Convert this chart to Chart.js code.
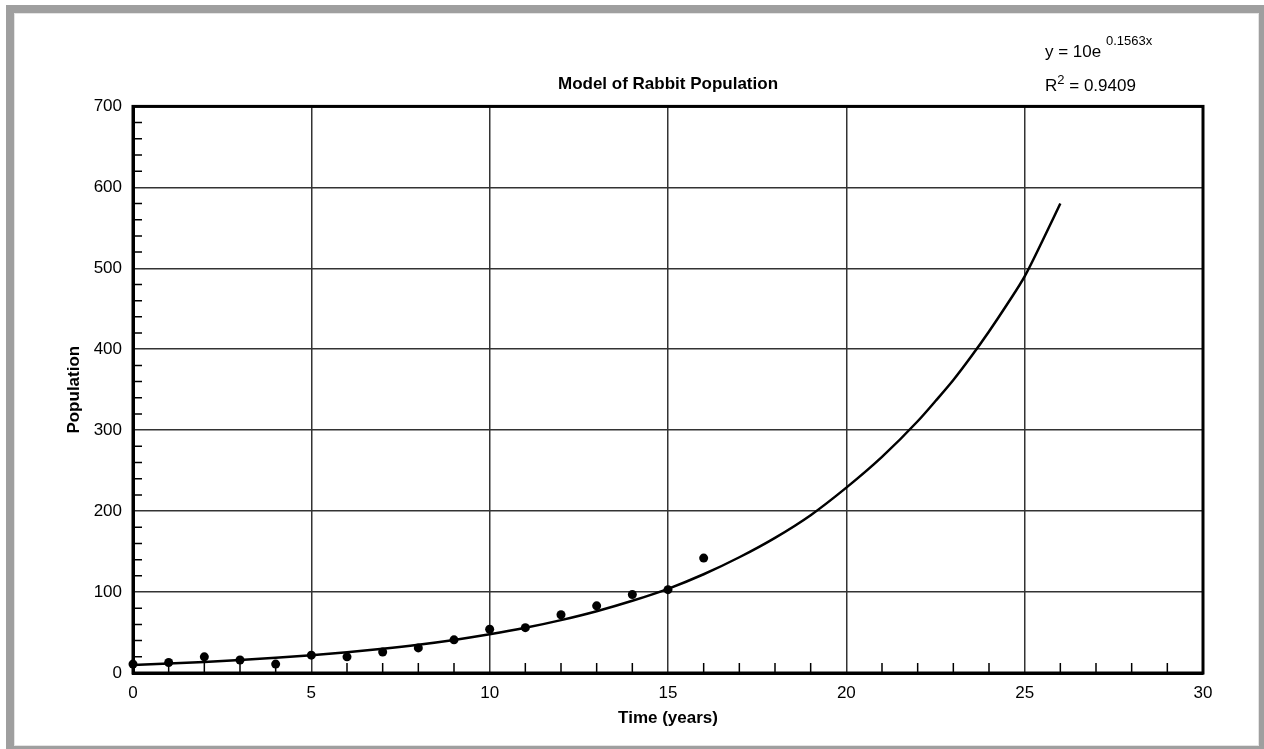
<!DOCTYPE html>
<html>
<head>
<meta charset="utf-8">
<script src="https://cdn.jsdelivr.net/npm/chart.js@4/dist/chart.umd.min.js"></script>
<style>
  html, body { margin: 0; padding: 0; background: #fff; overflow: hidden; }
  body { width: 1264px; height: 749px; position: relative; font-family: "Liberation Sans Narrow", "Arial Narrow", "Liberation Sans", Arial, sans-serif; }
  #frame { position: absolute; left: 6px; top: 5px; width: 1261px; height: 749px; box-sizing: border-box; border: 8px solid #9f9f9f; box-shadow: inset 0 0 0 1px #e4e4e4; }
  #grafico { position: absolute; left: 0; top: 0; }
  .eq { position: absolute; left: 1045px; font-size: 17px; color: #000; white-space: nowrap; line-height: 1; }
  .eq sup { font-size: 13px; position: relative; top: -4px; vertical-align: top; }
</style>
</head>
<body>
<div id="frame"></div>
<canvas id="grafico" width="1264" height="749"></canvas>
<div class="eq" style="top:43px">y = 10e <sup style="vertical-align:top;top:-9px">0.1563x</sup></div>
<div class="eq" style="top:77px">R<sup>2</sup> = 0.9409</div>
<script>
// === Dados ===
const anos = [0, 1, 2, 3, 4, 5, 6, 7, 8, 9, 10, 11, 12, 13, 14, 15, 16];
const populacao = [11, 13, 20, 16, 11, 22, 20, 26, 31, 41, 54, 56, 72, 83, 97, 103, 142];

// linha de tendência
const tendenciaX = [0, 1, 2, 3, 4, 5, 6, 7, 8, 9, 10, 11, 12, 13, 14, 15, 16, 17, 18, 19, 20, 21, 22, 22.5, 23, 23.5, 24, 24.5, 25, 25.5, 26];
const tendenciaY = [10, 11.7, 13.7, 16, 18.7, 21.9, 25.6, 29.9, 34.9, 40.8, 47.8, 55.8, 65.3, 76.3, 89.2, 104, 122, 143, 167, 195, 229, 267, 311, 336, 362, 391, 422, 455, 490, 534, 580];

const FONTE = '"Liberation Sans Narrow", "Arial Narrow", "Liberation Sans", Arial, sans-serif';

// === Tracinhos menores + moldura ===
const tracosMenores = {
    id: 'tracosMenores',
    beforeDatasetsDraw(chart) {
        const { ctx, chartArea: a, scales: { x, y } } = chart;
        ctx.save();
        ctx.strokeStyle = '#000';
        ctx.lineWidth = 1.5;
        ctx.beginPath();
        for (let v = 1; v < 30; v++) {
            if (v % 5 === 0) continue;
            const px = x.getPixelForValue(v);
            ctx.moveTo(px, a.bottom);
            ctx.lineTo(px, a.bottom - 10);
        }
        for (let v = 20; v < 700; v += 20) {
            if (v % 100 === 0) continue;
            const py = y.getPixelForValue(v);
            ctx.moveTo(a.left, py);
            ctx.lineTo(a.left + 9, py);
        }
        ctx.stroke();
        ctx.lineWidth = 3;
        ctx.strokeRect(a.left, a.top, a.right - a.left, a.bottom - a.top);
        ctx.restore();
    }
};

const ctx = document.getElementById('grafico').getContext('2d');
new Chart(ctx, {
    type: 'scatter',
    data: {
        datasets: [
            {
                type: 'line',
                data: tendenciaX.map((x, i) => ({ x, y: tendenciaY[i] })),
                borderColor: '#000',
                borderWidth: 2.5,
                pointRadius: 0,
                cubicInterpolationMode: 'monotone',
                fill: false
            },
            {
                type: 'scatter',
                data: anos.map((x, i) => ({ x, y: populacao[i] })),
                backgroundColor: '#000',
                borderColor: '#000',
                borderWidth: 0,
                pointRadius: 4.5,
                clip: false
            }
        ]
    },
    options: {
        responsive: false,
        animation: false,
        layout: { padding: { top: 74, right: 61, left: 0, bottom: 0 } },
        plugins: {
            legend: { display: false },
            tooltip: { enabled: false },
            title: {
                display: true,
                fullSize: false,
                text: 'Model of Rabbit Population',
                color: '#000',
                font: { family: FONTE, size: 17, weight: 'bold' },
                padding: { top: 0, bottom: 12 }
            }
        },
        scales: {
            x: {
                type: 'linear',
                min: 0,
                max: 30,
                ticks: { stepSize: 5, color: '#000', font: { family: FONTE, size: 17 }, padding: 10 },
                grid: { color: '#333', lineWidth: 1.5, drawTicks: false },
                border: { color: '#000', width: 3 },
                title: { display: true, text: 'Time (years)', color: '#000', font: { family: FONTE, size: 17, weight: 'bold' }, padding: { top: 0, bottom: 20 } },
                afterFit: s => { s.height = 76; }
            },
            y: {
                type: 'linear',
                min: 0,
                max: 700,
                ticks: { stepSize: 100, color: '#000', font: { family: FONTE, size: 17 }, padding: 11 },
                grid: { color: '#333', lineWidth: 1.5, drawTicks: false },
                border: { color: '#000', width: 3 },
                title: { display: true, text: 'Population', color: '#000', font: { family: FONTE, size: 17, weight: 'bold' }, padding: { top: 64, bottom: 0 } },
                afterFit: s => { s.width = 133; }
            }
        }
    },
    plugins: [tracosMenores]
});
</script>
</body>
</html>
